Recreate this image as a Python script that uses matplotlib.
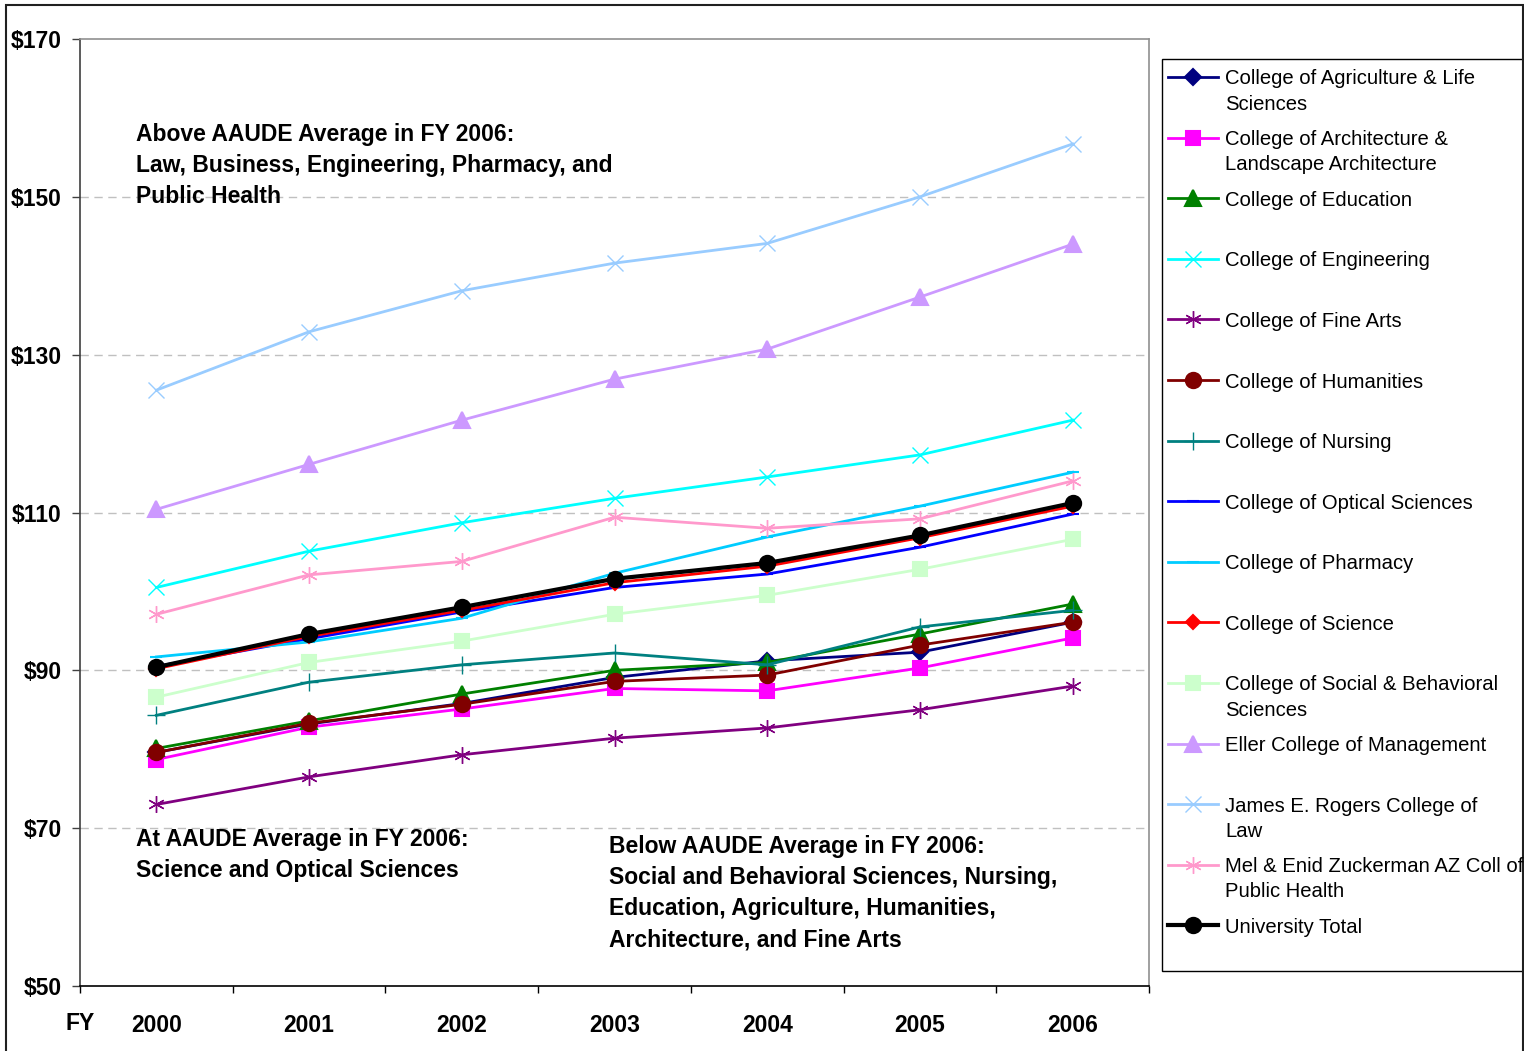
import matplotlib.pyplot as plt
from matplotlib.lines import Line2D
from matplotlib.patches import Rectangle

plt.rcParams['font.family'] = ['Liberation Sans', 'DejaVu Sans']

# data (dollars)
years = ['2000', '2001', '2002', '2003', '2004', '2005', '2006']
agriculture = [79.6, 83.2, 85.8, 89.1, 91.2, 92.3, 96.1]
architecture = [78.7, 82.8, 85.1, 87.7, 87.4, 90.3, 94.1]
education = [80.1, 83.6, 87.0, 90.0, 91.0, 94.6, 98.4]
engineering = [100.5, 105.1, 108.7, 111.8, 114.5, 117.3, 121.7]
fine_arts = [73.0, 76.5, 79.3, 81.4, 82.7, 85.0, 88.0]
humanities = [79.6, 83.3, 85.7, 88.6, 89.4, 93.2, 96.1]
nursing = [84.3, 88.5, 90.7, 92.2, 90.7, 95.5, 97.6]
optical = [90.5, 94.0, 97.4, 100.5, 102.2, 105.6, 109.8]
pharmacy = [91.7, 93.6, 96.6, 102.3, 106.9, 110.8, 115.1]
science = [90.2, 94.3, 97.6, 101.1, 103.2, 106.8, 110.8]
social = [86.6, 91.0, 93.7, 97.1, 99.5, 102.8, 106.6]
eller = [110.4, 116.1, 121.7, 126.9, 130.7, 137.3, 144.0]
law = [125.5, 132.9, 138.1, 141.6, 144.1, 150.0, 156.7]
public_health = [97.1, 102.1, 103.8, 109.4, 108.0, 109.2, 114.0]
total = [90.4, 94.6, 98.0, 101.6, 103.6, 107.1, 111.2]

above_note = ['Above AAUDE Average in FY 2006:',
              'Law, Business, Engineering, Pharmacy, and',
              'Public Health']
at_note = ['At AAUDE Average in FY 2006:',
           'Science and Optical Sciences']
below_note = ['Below AAUDE Average in FY 2006:',
              'Social and Behavioral Sciences, Nursing,',
              'Education, Agriculture, Humanities,',
              'Architecture, and Fine Arts']

star = (6, 2, 0)
series = [
    ('College of Agriculture & Life\nSciences', agriculture, '#000080', 'D', 8),
    ('College of Architecture &\nLandscape Architecture', architecture, '#FF00FF', 's', 10),
    ('College of Education', education, '#008000', '^', 11),
    ('College of Engineering', engineering, '#00FFFF', 'x', 11),
    ('College of Fine Arts', fine_arts, '#800080', star, 12),
    ('College of Humanities', humanities, '#800000', 'o', 11),
    ('College of Nursing', nursing, '#008080', '+', 13),
    ('College of Optical Sciences', optical, '#0000FF', '_', 8),
    ('College of Pharmacy', pharmacy, '#00CCFF', '_', 8),
    ('College of Science', science, '#FF0000', 'D', 7),
    ('College of Social & Behavioral\nSciences', social, '#CCFFCC', 's', 10),
    ('Eller College of Management', eller, '#CC99FF', '^', 11),
    ('James E. Rogers College of\nLaw', law, '#99CCFF', 'x', 11),
    ('Mel & Enid Zuckerman AZ Coll of\nPublic Health', public_health, '#FF99CC', star, 12),
    ('University Total', total, '#000000', 'o', 11),
]

W, H = 1527, 1051
fig = plt.figure(figsize=(W / 100, H / 100), dpi=100)
ax = fig.add_axes([80 / W, 1 - 986 / H, (1149 - 80) / W, (986 - 39) / H])

x = list(range(len(years)))
for label, vals, color, marker, ms in series:
    lw = 3.0 if label == 'University Total' else 2.0
    mew = 1.0 if marker in ('x', '+', star) else 1.5
    ax.plot(x, vals, color=color, lw=lw, marker=marker, ms=ms,
            mec=color, mfc=color, mew=mew)

ax.set_xlim(-0.5, 6.5)
ax.set_ylim(50, 170)
ax.set_yticks(range(50, 171, 20))
ax.set_yticklabels(['$%d' % v for v in range(50, 171, 20)],
                   fontsize=16.5, fontweight='bold')
ax.set_xticks(x)
ax.set_xticklabels(years, fontsize=16.5, fontweight='bold')
ax.set_xticks([i - 0.5 for i in range(len(years) + 1)], minor=True)
ax.tick_params(axis='x', which='major', length=0, pad=20)
ax.tick_params(axis='x', which='minor', length=5, width=1, color='black')
ax.tick_params(axis='y', length=6, width=1, pad=7, color='#404040')
ax.text(-0.5, -0.0395, 'FY', transform=ax.get_xaxis_transform(),
        ha='center', va='center', fontsize=16.5, fontweight='bold')

for v in range(70, 151, 20):
    ax.axhline(v, color='#C0C0C0', lw=1, ls=(0, (6, 4)), zorder=0)

ax.spines['left'].set_color('#404040')
ax.spines['bottom'].set_color('black')
ax.spines['top'].set_color('#909090')
ax.spines['right'].set_color('#909090')
for s in ax.spines.values():
    s.set_linewidth(1.2)


def note(lines, xpx, ypx):
    # one text per line, 31 px apart like the original
    for k, line in enumerate(lines):
        fig.text(xpx / W, 1 - (ypx + 31 * k) / H, line, ha='left',
                 va='center_baseline', fontsize=16.5, fontweight='bold')


note(above_note, 136, 132)
note(at_note, 136, 837)
note(below_note, 609, 844)

# legend drawn by hand to keep Excel's layout
fig.add_artist(Rectangle((1162 / W, 1 - 971 / H), (1523 - 1162) / W, (971 - 59) / H,
                         transform=fig.transFigure, fill=False, ec='black', lw=1))
for i, (label, vals, color, marker, ms) in enumerate(series):
    yc = 77 + i * 60.6
    lw = 3.0 if label == 'University Total' else 2.0
    mew = 1.0 if marker in ('x', '+', star) else 1.5
    fig.add_artist(Line2D([1168 / W, 1218 / W], [1 - yc / H] * 2,
                          transform=fig.transFigure, color=color, lw=lw))
    fig.add_artist(Line2D([1193 / W], [1 - yc / H], transform=fig.transFigure,
                          color=color, marker=marker, ms=ms, mec=color, mfc=color, mew=mew))
    for k, line in enumerate(label.split('\n')):
        fig.text(1225 / W, 1 - (yc + 25 * k) / H, line, ha='left',
                 va='center_baseline', fontsize=14.6, clip_on=False)

# outer border
fig.add_artist(Rectangle((6 / W, -0.01), (1523 - 6) / W, 1.01 - 5 / H,
                         transform=fig.transFigure, fill=False, ec='#202020', lw=1.5))
fig.add_artist(Rectangle((1524 / W, 0), 3 / W, 1,
                         transform=fig.transFigure, fc='white', ec='none'))

fig.savefig('out.png', dpi=100)
